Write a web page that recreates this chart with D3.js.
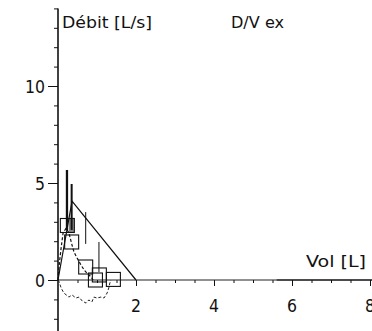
<!DOCTYPE html>
<html>
<head>
<meta charset="utf-8">
<script src="https://cdn.jsdelivr.net/npm/d3@7"></script>
<style>
  html, body { margin: 0; padding: 0; background: #fff; }
  svg { display: block; }
  text { font-family: "DejaVu Sans", Verdana, sans-serif; fill: #111; }
</style>
</head>
<body>
<svg id="chart" width="372" height="331"></svg>
<script>
// Flow–volume plot (expiration): predicted outline, measured loop, reference boxes

const xMajorTicks = [2, 4, 6, 8];
const yMajorTicks = [0, 5, 10];
const xMinorTicks = [0.5, 1, 1.5, 2.5, 3, 3.5, 4.5, 5, 5.5, 6.5, 7, 7.5];
const yMinorTicks = [-2, -1, 1, 2, 3, 4, 6, 7, 8, 9, 11, 12, 13, 14];

// predicted expiratory outline (volume L, flow L/s)
const predVol  = [0, 0.36, 2];
const predFlow = [0, 4.07, 0];

// measured expiratory limb
const expVol  = [0, 0.03, 0.08, 0.13, 0.21, 0.28, 0.36, 0.41, 0.49, 0.59, 0.67, 0.74, 0.85, 0.90];
const expFlow = [0, 0.77, 1.65, 2.42, 2.68, 2.42, 1.80, 1.44, 1.13, 0.77, 0.52, 0.36, 0.15, 0];

// measured inspiratory limb
const inspVol  = [0, 0.03, 0.08, 0.15, 0.28, 0.36, 0.46, 0.54, 0.62, 0.72, 0.79, 0.87, 0.92, 1.00, 1.10, 1.18, 1.26, 1.31, 1.33, 1.36];
const inspFlow = [0, -0.10, -0.41, -0.67, -0.88, -0.77, -0.93, -0.88, -1.08, -1.19, -1.03, -1.13, -0.88, -0.93, -0.88, -0.93, -0.67, -0.36, -0.15, 0];

// reference boxes (centre volume, centre flow)
const boxVol  = [0.24, 0.35, 0.71, 1.06, 0.96, 1.42];
const boxFlow = [2.81, 1.96, 0.67, 0.26, 0.00, 0.03];

// normal-range bars
const barVol  = [0.23, 0.35, 0.71, 1.05];
const barLow  = [2.58, 2.58, 1.86, 0.41];
const barHigh = [5.67, 4.95, 3.50, 1.96];
const barWidth = [2.3, 2, 1, 1];

// shaded overlap band
const bandVol  = [0.28, 0.41];
const bandFlow = [2.47, 3.20];

const svg = d3.select("#chart");
const x = d3.scaleLinear().domain([0, 8]).range([58, 370]);
const y = d3.scaleLinear().domain([0, 10]).range([280, 86]);

// ---- axes ----
const gx = svg.append("g").attr("transform", `translate(0,${y(0)})`);
gx.call(d3.axisBottom(x).tickValues(xMinorTicks).tickSize(3).tickFormat(""));
gx.call(g => g.select(".domain").remove());
const gxMaj = svg.append("g").attr("transform", `translate(0,${y(0)})`);
gxMaj.call(d3.axisBottom(x).tickValues(xMajorTicks).tickSize(6).tickFormat(""));
gxMaj.call(g => g.select(".domain").remove());
svg.selectAll(".tick line").attr("stroke", "#111");

// x axis line: thin part then heavier part
svg.append("line").attr("x1", x(0)).attr("x2", x(5.6)).attr("y1", y(0)).attr("y2", y(0))
  .attr("stroke", "#222").attr("stroke-width", 1);
svg.append("line").attr("x1", x(5.6)).attr("x2", 372).attr("y1", y(0)).attr("y2", y(0))
  .attr("stroke", "#111").attr("stroke-width", 1.6);

const gy = svg.append("g").attr("transform", `translate(${x(0)},0)`);
gy.call(d3.axisLeft(y).tickValues(yMinorTicks).tickSize(4).tickFormat(""));
gy.call(g => g.select(".domain").remove());
const gyMaj = svg.append("g").attr("transform", `translate(${x(0)},0)`);
gyMaj.call(d3.axisLeft(y).tickValues(yMajorTicks).tickSize(10).tickFormat(""));
gyMaj.call(g => g.select(".domain").remove());
svg.selectAll(".tick line").attr("stroke", "#111");
svg.append("line").attr("x1", x(0)).attr("x2", x(0)).attr("y1", y(14)).attr("y2", 331)
  .attr("stroke", "#111").attr("stroke-width", 1.6);

// tick labels
svg.selectAll("text.ylab").data(yMajorTicks).join("text").attr("class", "ylab")
  .attr("x", 45).attr("y", d => y(d) + 7)
  .attr("text-anchor", "end").attr("font-size", 18)
  .attr("textLength", d => String(d).length * 10).attr("lengthAdjust", "spacingAndGlyphs")
  .text(d => d);
svg.selectAll("text.xlab").data(xMajorTicks).join("text").attr("class", "xlab")
  .attr("x", d => x(d)).attr("y", y(0) + 32)
  .attr("text-anchor", "middle").attr("font-size", 18)
  .attr("textLength", 10).attr("lengthAdjust", "spacingAndGlyphs")
  .text(d => d);

// titles
svg.append("text").attr("x", 62).attr("y", 28).attr("font-size", 16)
  .attr("textLength", 90).attr("lengthAdjust", "spacingAndGlyphs").text("Débit [L/s]");
svg.append("text").attr("x", 231).attr("y", 28).attr("font-size", 16)
  .attr("textLength", 53).attr("lengthAdjust", "spacingAndGlyphs").text("D/V ex");
svg.append("text").attr("x", 306).attr("y", 267).attr("font-size", 16)
  .attr("textLength", 60).attr("lengthAdjust", "spacingAndGlyphs").text("Vol [L]");

// ---- marks ----
const line = d3.line().x(d => x(d[0])).y(d => y(d[1]));

svg.append("rect")
  .attr("x", x(bandVol[0])).attr("width", x(bandVol[1]) - x(bandVol[0]))
  .attr("y", y(bandFlow[1])).attr("height", y(bandFlow[0]) - y(bandFlow[1]))
  .attr("fill", "#888");

svg.append("path").datum(d3.zip(predVol, predFlow))
  .attr("d", line).attr("fill", "none").attr("stroke", "#111").attr("stroke-width", 1.2);

svg.append("path").datum(d3.zip(expVol, expFlow))
  .attr("d", line.curve(d3.curveLinear)).attr("fill", "none")
  .attr("stroke", "#111").attr("stroke-width", 1.2).attr("stroke-dasharray", "3,2");

svg.append("path").datum(d3.zip(inspVol, inspFlow))
  .attr("d", line).attr("fill", "none")
  .attr("stroke", "#222").attr("stroke-width", 1).attr("stroke-dasharray", "3,2");

svg.selectAll("line.bar").data(d3.range(barVol.length)).join("line").attr("class", "bar")
  .attr("x1", i => x(barVol[i])).attr("x2", i => x(barVol[i]))
  .attr("y1", i => y(barHigh[i])).attr("y2", i => y(barLow[i]))
  .attr("stroke", "#111").attr("stroke-width", i => barWidth[i]);

const half = 7;
svg.selectAll("rect.box").data(d3.range(boxVol.length)).join("rect").attr("class", "box")
  .attr("x", i => x(boxVol[i]) - half).attr("y", i => y(boxFlow[i]) - half)
  .attr("width", 2 * half).attr("height", 2 * half)
  .attr("fill", "none").attr("stroke", "#111").attr("stroke-width", 1.1);
</script>
</body>
</html>
